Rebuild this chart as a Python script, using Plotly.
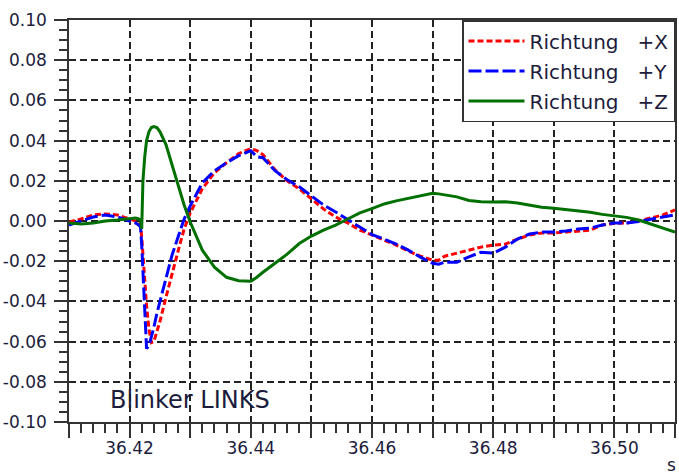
import plotly.graph_objects as go

# ---- data ----
t = [36.410, 36.412, 36.414, 36.416, 36.418, 36.420, 36.421, 36.4215, 36.4218,
     36.4220, 36.4222, 36.4225, 36.4228, 36.4232, 36.4236, 36.4240, 36.4245,
     36.425, 36.426, 36.427, 36.428, 36.429, 36.430, 36.432, 36.434, 36.436,
     36.438, 36.440, 36.441, 36.442, 36.444, 36.446, 36.448, 36.450, 36.452,
     36.454, 36.456, 36.458, 36.460, 36.462, 36.464, 36.466, 36.468, 36.470,
     36.471, 36.472, 36.474, 36.476, 36.478, 36.480, 36.482, 36.484, 36.486,
     36.488, 36.490, 36.492, 36.494, 36.496, 36.498, 36.500, 36.502, 36.504,
     36.506, 36.508, 36.510]

richtung_x = [-0.0005, 0.001, 0.003, 0.0035, 0.003, 0.001, 0.000, -0.001, -0.002,
              -0.008, -0.018, -0.030, -0.042, -0.054, -0.0605, -0.060, -0.055,
              -0.050, -0.038, -0.026, -0.015, -0.004, 0.004, 0.016, 0.024, 0.029,
              0.0335, 0.0360, 0.035, 0.033, 0.0255, 0.020, 0.016, 0.011, 0.006,
              0.002, -0.001, -0.0045, -0.007, -0.0095, -0.012, -0.015, -0.0175, -0.0195,
              -0.0195, -0.0175, -0.016, -0.0145, -0.013, -0.012, -0.0115, -0.009, -0.007,
              -0.006, -0.006, -0.0055, -0.005, -0.0045, -0.002, -0.0012, -0.001, 0.000,
              0.0015, 0.003, 0.0055]

richtung_y = [-0.002, 0.000, 0.002, 0.003, 0.002, 0.000, -0.001, -0.002, -0.003,
              -0.012, -0.025, -0.045, -0.0635, -0.062, -0.058, -0.053, -0.046,
              -0.040, -0.028, -0.017, -0.008, 0.001, 0.0075, 0.019, 0.025, 0.029,
              0.0325, 0.035, 0.032, 0.0315, 0.025, 0.0205, 0.017, 0.0125, 0.008,
              0.0045, 0.0007, -0.003, -0.0068, -0.009, -0.0115, -0.0145, -0.018, -0.021,
              -0.0215, -0.0205, -0.0205, -0.0178, -0.0155, -0.016, -0.013, -0.009, -0.0065,
              -0.0055, -0.0055, -0.005, -0.004, -0.0035, -0.002, -0.001, -0.001, -0.0003,
              0.001, 0.002, 0.003]

richtung_z = [-0.001, -0.0015, -0.001, 0.000, 0.0005, 0.001, 0.0015, 0.001, 0.0005,
              -0.004, 0.020, 0.032, 0.040, 0.0445, 0.0465, 0.047, 0.0465,
              0.0445, 0.038, 0.028, 0.0175, 0.008, -0.0005, -0.0145, -0.023, -0.028,
              -0.0297, -0.030, -0.028, -0.0255, -0.021, -0.0165, -0.0112, -0.0075, -0.0045,
              -0.002, 0.001, 0.004, 0.0062, 0.0085, 0.010, 0.0112, 0.0125, 0.0138,
              0.0135, 0.013, 0.012, 0.0102, 0.0096, 0.0095, 0.0096, 0.009, 0.008,
              0.0068, 0.0063, 0.0057, 0.005, 0.0044, 0.0033, 0.0025, 0.0018, 0.0005,
              -0.0015, -0.0035, -0.0055]

series_names = ["Richtung\u00a0\u00a0\u00a0+X", "Richtung\u00a0\u00a0\u00a0+Y", "Richtung\u00a0\u00a0\u00a0+Z"]

x_tick_vals = [36.41, 36.42, 36.43, 36.44, 36.45, 36.46, 36.47, 36.48, 36.49, 36.50, 36.51]
x_tick_text = ["", "36.42", "", "36.44", "", "36.46", "", "36.48", "", "36.50", ""]
y_tick_vals = [-0.10, -0.08, -0.06, -0.04, -0.02, 0.0, 0.02, 0.04, 0.06, 0.08, 0.10]
y_tick_text = ["-0.10", "-0.08", "-0.06", "-0.04", "-0.02", "0.00", "0.02", "0.04", "0.06", "0.08", "0.10"]

FONT = "DejaVu Sans"
TXT = "#1c1c3c"
AX = "#333333"

fig = go.Figure()
fig.add_trace(go.Scatter(x=t, y=richtung_x, mode="lines", name=series_names[0], legendgroup="a",
                         line=dict(color="#ff0000", width=3, dash="6px,3px")))
fig.add_trace(go.Scatter(x=t, y=richtung_y, mode="lines", name=series_names[1], legendgroup="b",
                         line=dict(color="#0000ff", width=3, dash="13px,4px")))
fig.add_trace(go.Scatter(x=t, y=richtung_z, mode="lines", name=series_names[2], legendgroup="c",
                         line=dict(color="#007000", width=3)))

fig.update_layout(
    width=679, height=476,
    margin=dict(l=69, r=2, t=20, b=54),
    paper_bgcolor="white", plot_bgcolor="white",
    font=dict(family=FONT, size=17, color=TXT),
    showlegend=True,
    legend=dict(x=1, y=1, xanchor="right", yanchor="top", bgcolor="white",
                bordercolor=AX, borderwidth=1.5, font=dict(family=FONT, size=20, color=TXT),
                itemwidth=56, tracegroupgap=1, traceorder="grouped"),
)

fig.update_xaxes(range=[36.41, 36.51], tickmode="array", tickvals=x_tick_vals, ticktext=x_tick_text,
                 showline=True, linecolor=AX, linewidth=1.5, mirror=True,
                 ticks="outside", ticklen=14, tickwidth=1.5, tickcolor=AX,
                 ticklabelstandoff=-4,
                 showgrid=True, gridcolor="#222222", gridwidth=1.5, griddash="7px,4px",
                 zeroline=False,
                 minor=dict(tick0=36.41, dtick=0.002, ticks="outside", ticklen=9,
                            tickwidth=1.5, tickcolor=AX, showgrid=False),
                 tickfont=dict(family=FONT, size=17, color=TXT))
fig.update_yaxes(range=[-0.10, 0.10], tickmode="array", tickvals=y_tick_vals, ticktext=y_tick_text,
                 showline=True, linecolor=AX, linewidth=1.5, mirror=True,
                 ticks="outside", ticklen=13, tickwidth=1.5, tickcolor=AX,
                 ticklabelstandoff=4,
                 showgrid=True, gridcolor="#222222", gridwidth=1.5, griddash="7px,4px",
                 zeroline=False,
                 minor=dict(tick0=-0.10, dtick=0.005, ticks="outside", ticklen=8,
                            tickwidth=1.5, tickcolor=AX, showgrid=False),
                 tickfont=dict(family=FONT, size=17, color=TXT))

fig.add_annotation(x=36.4164, y=-0.089, xref="x", yref="y", xanchor="left", yanchor="middle",
                   text="Blinker LINKS", showarrow=False,
                   font=dict(family=FONT, size=24, color=TXT))
fig.add_annotation(x=0.983, y=-0.108, xref="paper", yref="paper", xanchor="left", yanchor="middle",
                   text="s", showarrow=False, font=dict(family=FONT, size=17, color=TXT))

fig.write_html("out.html")
